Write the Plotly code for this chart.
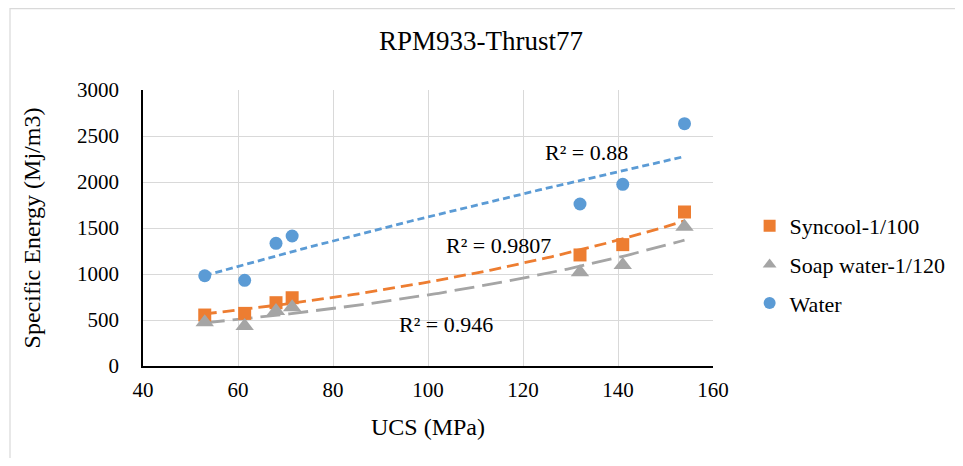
import numpy as np
import plotly.graph_objects as go

ucs = [53, 61.4, 68, 71.4, 132, 141, 154]
syncool = [554, 572, 688, 742, 1207, 1319, 1674]
soap = [475, 435, 598, 638, 1018, 1098, 1514]
water = [981, 931, 1333, 1413, 1761, 1975, 2634]

names = ["Syncool-1/100", "Soap water-1/120", "Water"]
colors = ["#ED7D31", "#A5A5A5", "#5B9BD5"]
r2_labels = ["R² = 0.9807", "R² = 0.946", "R² = 0.88"]

FONT = "Liberation Serif"

x = np.array(ucs, dtype=float)
xs = np.linspace(x.min(), x.max(), 120)

def exp_fit(y):
    b, lna = np.polyfit(x, np.log(np.array(y, dtype=float)), 1)
    return np.exp(lna) * np.exp(b * xs)

def pow_fit(y):
    b, lna = np.polyfit(np.log(x), np.log(np.array(y, dtype=float)), 1)
    return np.exp(lna) * xs ** b

# page body has an 8px margin; figure size/margins compensate for it
W, H = 955, 450
L, T = 135, 82
PW, PH = 576, 276
R = W - L - PW
B = H - T - PH

fig = go.Figure()
# trendlines
fig.add_trace(go.Scatter(x=xs, y=pow_fit(water), mode="lines", showlegend=False,
                         line=dict(color=colors[2], width=2.8, dash="7px,4px")))
fig.add_trace(go.Scatter(x=xs, y=exp_fit(syncool), mode="lines", showlegend=False,
                         line=dict(color=colors[0], width=2.8, dash="12px,6px")))
fig.add_trace(go.Scatter(x=xs, y=exp_fit(soap), mode="lines", showlegend=False,
                         line=dict(color=colors[1], width=2.8, dash="20px,8px")))
# markers
fig.add_trace(go.Scatter(x=ucs, y=syncool, mode="markers", name=names[0], legendgroup="a",
                         marker=dict(symbol="square", size=13, color=colors[0])))
fig.add_trace(go.Scatter(x=ucs, y=soap, mode="markers", name=names[1], legendgroup="b",
                         marker=dict(symbol="triangle-up", size=16, color=colors[1])))
fig.add_trace(go.Scatter(x=ucs, y=water, mode="markers", name=names[2], legendgroup="c",
                         marker=dict(symbol="circle", size=13, color=colors[2])))

ann_font = dict(family=FONT, size=22, color="#000")
fig.add_annotation(x=133.3, y=2318, text=r2_labels[2], showarrow=False, font=ann_font)
fig.add_annotation(x=114.8, y=1315, text=r2_labels[0], showarrow=False, font=ann_font)
fig.add_annotation(x=103.7, y=446, text=r2_labels[1], showarrow=False, font=ann_font)

fig.add_shape(type="rect", xref="paper", yref="paper",
              x0=(0.6 - L) / PW, x1=(W + 40 - L) / PW,
              y0=(T + PH - H - 40) / PH, y1=(T + PH - 0.6) / PH,
              line=dict(color="#D9D9D9", width=1.2), fillcolor="rgba(0,0,0,0)", layer="below")

fig.update_layout(
    width=W, height=H,
    margin=dict(l=L, r=R, t=T, b=B),
    paper_bgcolor="white", plot_bgcolor="white",
    font=dict(family=FONT, size=21, color="#000"),
    title=dict(text="RPM933-Thrust77", x=(481 - 8) / W, xanchor="center",
               y=1 - 33 / H, yanchor="middle", font=dict(family=FONT, size=27, color="#000")),
    xaxis=dict(range=[40, 160], tickmode="array", tickvals=[40, 60, 80, 100, 120, 140, 160],
               showgrid=True, gridcolor="#D9D9D9", gridwidth=1.3, zeroline=False,
               showline=True, linecolor="#000", linewidth=1.6, ticks="",
               ticklabelstandoff=4,
               title=dict(text="UCS (MPa)", font=dict(family=FONT, size=24), standoff=17),
               tickfont=dict(family=FONT, size=21)),
    yaxis=dict(range=[0, 3000], tickmode="array", tickvals=[0, 500, 1000, 1500, 2000, 2500, 3000],
               showgrid=True, gridcolor="#D9D9D9", gridwidth=1.3, zeroline=False,
               showline=True, linecolor="#000", linewidth=1.6, ticks="",
               ticklabelstandoff=18,
               title=dict(text="Specific Energy (Mj/m3)", font=dict(family=FONT, size=24), standoff=30),
               tickfont=dict(family=FONT, size=21)),
    legend=dict(x=(748 - L) / PW, y=(T + PH - 197) / PH, xanchor="left", yanchor="top",
                font=dict(family=FONT, size=22), itemsizing="constant",
                traceorder="grouped", tracegroupgap=7,
                bgcolor="rgba(0,0,0,0)"),
    showlegend=True,
)

fig.write_html("out.html")
